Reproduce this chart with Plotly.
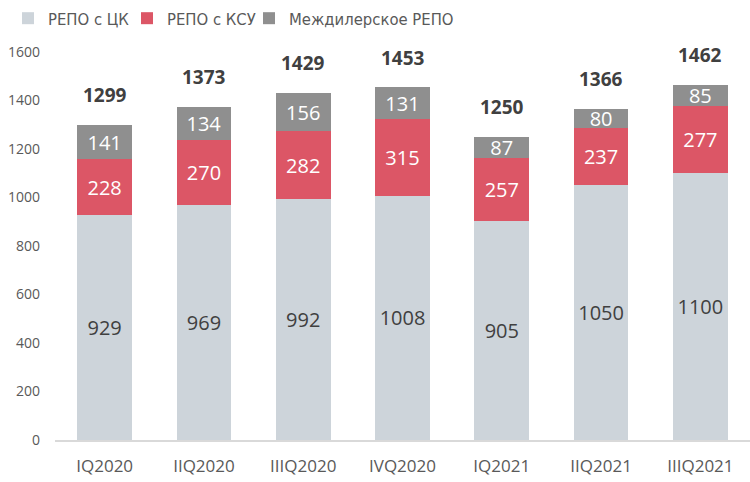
import plotly.graph_objects as go

categories = ["IQ2020", "IIQ2020", "IIIQ2020", "IVQ2020", "IQ2021", "IIQ2021", "IIIQ2021"]
repo_ck = [929, 969, 992, 1008, 905, 1050, 1100]
repo_ksu = [228, 270, 282, 315, 257, 237, 277]
repo_inter = [141, 134, 156, 131, 87, 80, 85]
totals = [1299, 1373, 1429, 1453, 1250, 1366, 1462]
y_ticks = [0, 200, 400, 600, 800, 1000, 1200, 1400, 1600]

FONT = "Open Sans"
LEG_FONT = "DejaVu Sans Condensed, Roboto"

fig = go.Figure()
fig.add_trace(go.Bar(
    name="РЕПО с ЦК", x=categories, y=repo_ck, legend="legend",
    marker=dict(color="#CDD4DA", line=dict(width=0)),
    text=[str(v) for v in repo_ck], textposition="inside", insidetextanchor="middle",
    textangle=0, constraintext="none",
    textfont=dict(family=FONT, size=20, color="#404040"),
))
fig.add_trace(go.Bar(
    name="РЕПО с КСУ", x=categories, y=repo_ksu, legend="legend2",
    marker=dict(color="#DC5666", line=dict(width=0)),
    text=[str(v) for v in repo_ksu], textposition="inside", insidetextanchor="middle",
    textangle=0, constraintext="none",
    textfont=dict(family=FONT, size=20, color="white"),
))
fig.add_trace(go.Bar(
    name="Междилерское РЕПО", x=categories, y=repo_inter, legend="legend3",
    marker=dict(color="#8F8F8F", line=dict(width=0)),
    text=[str(v) for v in repo_inter], textposition="inside", insidetextanchor="middle",
    textangle=0, constraintext="none",
    textfont=dict(family=FONT, size=20, color="white"),
))

for c, t in zip(categories, totals):
    fig.add_annotation(x=c, y=t, text=f"<b>{t}</b>", showarrow=False,
                       yanchor="middle", yshift=30,
                       font=dict(family=FONT, size=19, color="#404040"))

def leg(xpos):
    return dict(orientation="h", x=xpos, xanchor="left", y=0.998, yanchor="top",
                xref="container", yref="container",
                font=dict(family=LEG_FONT, size=16.5, color="#595959"),
                itemsizing="constant", itemwidth=30, bgcolor="rgba(0,0,0,0)")

fig.update_layout(
    width=750, height=482,
    barmode="stack", bargap=0.45,
    margin=dict(l=55, r=0, t=52, b=42),
    plot_bgcolor="white", paper_bgcolor="white",
    font=dict(family=FONT, color="#595959"),
    showlegend=True,
    legend=leg(8 / 750),
    legend2=leg(127 / 750),
    legend3=leg(249 / 750),
    xaxis=dict(showline=True, linecolor="#D9D9D9", linewidth=1.5, ticks="",
               showgrid=False, ticklabelstandoff=10,
               tickfont=dict(family=FONT, size=17, color="#595959")),
    yaxis=dict(range=[0, 1600], tickvals=y_ticks, showgrid=False, zeroline=False,
               showline=False, ticks="", ticklabelstandoff=14,
               tickfont=dict(family=FONT, size=14, color="#595959")),
)

fig.write_html("out.html", config={"displayModeBar": False})
with open("out.html", "r", encoding="utf-8") as f:
    html = f.read()
html = html.replace("<body>", '<body style="margin:0;padding:0;">', 1)
with open("out.html", "w", encoding="utf-8") as f:
    f.write(html)
